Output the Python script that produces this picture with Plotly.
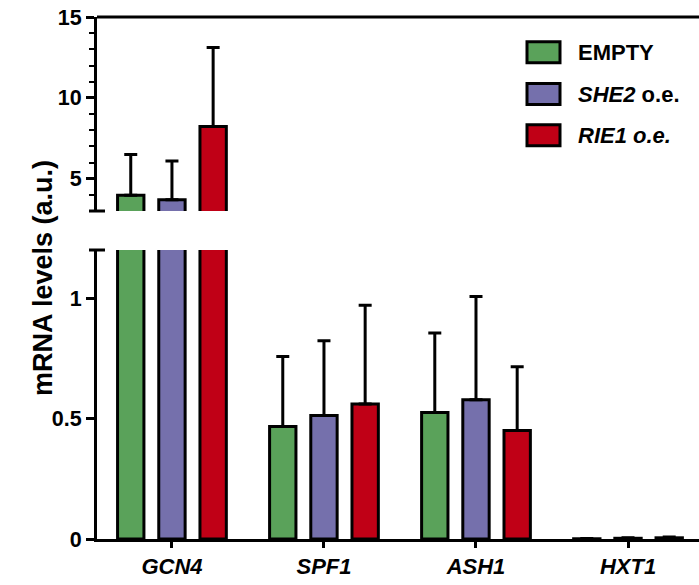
import plotly.graph_objects as go

genes = ["GCN4", "SPF1", "ASH1", "HXT1"]
series_names = ["EMPTY", "SHE2 o.e.", "RIE1 o.e."]
series_labels = ["<b>EMPTY</b>", "<b><i>SHE2</i> o.e.</b>", "<b><i>RIE1 o.e.</i></b>"]
empty_vals = [3.97, 0.467, 0.525, 0.001]
empty_err = [2.53, 0.291, 0.330, 0.001]
she2_vals = [3.70, 0.513, 0.578, 0.003]
she2_err = [2.39, 0.310, 0.429, 0.002]
rie1_vals = [8.23, 0.561, 0.451, 0.005]
rie1_err = [4.89, 0.410, 0.264, 0.003]
colors = ["#5aa25a", "#7570ac", "#c00016"]

lower_ticks = [0, 0.5, 1]
lower_ticktext = ["0", "0.5", "1"]

FONT = "Liberation Sans, Arial, sans-serif"
W, H = 699, 585
ML, MR, MT, MB = 97, 0, 17, 46
PW, PH = W - ML - MR, H - MT - MB

def px_x(px):
    return (px - ML) / PW

def px_y(py):
    return (H - MB - py) / PH

fig = go.Figure()
vals = [empty_vals, she2_vals, rie1_vals]
errs = [empty_err, she2_err, rie1_err]
for ax in ["y", "y2"]:
    for name, v, e, c in zip(series_names, vals, errs, colors):
        fig.add_trace(go.Bar(
            x=genes, y=v, name=name, yaxis=ax, showlegend=False,
            marker=dict(color=c, line=dict(color="black", width=3)),
            error_y=dict(type="data", symmetric=False, array=e,
                         arrayminus=[0] * len(e), color="black",
                         thickness=3, width=6.5),
        ))

axis_common = dict(showline=True, linecolor="black", linewidth=3,
                   ticks="outside", tickcolor="black", tickwidth=3, ticklen=8,
                   showgrid=False, zeroline=False, automargin=False,
                   tickfont=dict(family=FONT, size=21.5, color="black", weight="bold"))

fig.update_layout(
    width=W, height=H,
    margin=dict(l=ML, r=MR, t=MT, b=MB, pad=0),
    plot_bgcolor="white", paper_bgcolor="white",
    barmode="group", bargap=0.187, bargroupgap=0.36,
    xaxis=dict(showline=True, linecolor="black", linewidth=3,
               ticks="outside", tickcolor="black", tickwidth=3, ticklen=6,
               showgrid=False, zeroline=False, anchor="y", automargin=False,
               range=[-0.493, 3.467],
               tickfont=dict(family=FONT, size=22, color="black",
                             weight="bold", style="italic")),
    yaxis=dict(axis_common, domain=[0, px_y(250)], range=[0, 1.2],
               tickmode="array", tickvals=lower_ticks, ticktext=lower_ticktext,
               anchor="x"),
    yaxis2=dict(axis_common, domain=[px_y(211), 1], range=[3, 15],
                tickmode="linear", tick0=0, dtick=5, anchor="x",
                minor=dict(tickmode="linear", tick0=0, dtick=1, ticks="outside",
                           ticklen=5, tickwidth=2, tickcolor="black",
                           showgrid=False)),
)

# top frame line and axis-break caps
fig.add_shape(type="line", xref="paper", yref="y2 domain", x0=0, x1=1, y0=1, y1=1,
              line=dict(color="black", width=3))
for yref, yv in [("y2 domain", 0), ("y domain", 1)]:
    fig.add_shape(type="line", xref="paper", yref=yref,
                  x0=px_x(ML - 8), x1=px_x(ML + 8), y0=yv, y1=yv,
                  line=dict(color="black", width=3))

# y-axis title
fig.add_annotation(text="<b>mRNA levels (a.u.)</b>", xref="paper", yref="paper",
                   x=px_x(26), y=0.5, textangle=-90, showarrow=False,
                   font=dict(family=FONT, size=27, color="black"))

# legend
row_centers = [52.3, 94, 135.3]
for lab, c, cy in zip(series_labels, colors, row_centers):
    fig.add_shape(type="rect", xref="paper", yref="paper",
                  x0=px_x(527), x1=px_x(560), y0=px_y(cy + 10.5), y1=px_y(cy - 10.5),
                  fillcolor=c, line=dict(color="black", width=3))
    fig.add_annotation(text=lab, xref="paper", yref="paper",
                       x=px_x(576), y=px_y(cy), xanchor="left", yanchor="middle",
                       showarrow=False,
                       font=dict(family=FONT, size=22, color="black"))

fig.write_html("out.html", config={"displayModeBar": False},
               post_script="document.body.style.margin='0';document.body.style.padding='0';")
